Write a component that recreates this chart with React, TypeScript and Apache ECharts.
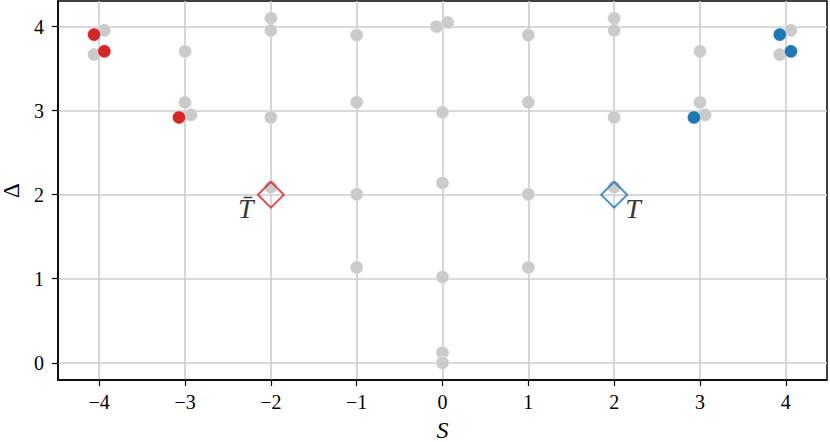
import React, { useEffect, useRef } from "react";
import * as echarts from "echarts";

const xTicks = [-4, -3, -2, -1, 0, 1, 2, 3, 4];
const yTicks = [0, 1, 2, 3, 4];

const grayS = [
  -4.06, -3.94,
  -3, -3, -2.93,
  -2, -2, -2, -2,
  -1, -1, -1, -1,
  -0.07, 0.06, 0, 0, 0, 0, 0,
  1, 1, 1, 1,
  2, 2, 2, 2,
  3, 3, 3.06,
  4.06, 3.93,
];
const grayD = [
  3.667, 3.956,
  3.706, 3.098, 2.95,
  4.1, 3.955, 2.92, 2.09,
  3.9, 3.1, 2.005, 1.135,
  4.0, 4.05, 2.98, 2.14, 1.02, 0.12, 0.0,
  3.9, 3.1, 2.005, 1.135,
  4.1, 3.955, 2.92, 2.09,
  3.706, 3.098, 2.95,
  3.956, 3.667,
];
const redS = [-4.06, -3.94, -3.07];
const redD = [3.905, 3.706, 2.92];
const blueS = [3.93, 4.06, 2.93];
const blueD = [3.905, 3.706, 2.92];
const diamondS = [-2, 2];
const diamondD = [2, 2];
const diamondLabels = ["T\u0304", "T"];

const RED = "#d62728";
const BLUE = "#1f77b4";
const GRAY = "#cbcbcb";
const FONT = "'Liberation Serif', 'DejaVu Serif', serif";

const zip = (a: number[], b: number[]) => a.map((v, i) => [v, b[i]]);
const fmt = (v: number) => (v < 0 ? "\u2212" + Math.abs(v) : String(v));

export default function App() {
  const ref = useRef<HTMLDivElement>(null);
  useEffect(() => {
    if (!ref.current) return;
    const chart = echarts.init(ref.current, undefined, { renderer: "svg" });
    const dotStyle = (c: string) => ({
      color: c,
      borderColor: "rgba(255,255,255,0.45)",
      borderWidth: 0.8,
      opacity: 1,
    });
    chart.setOption({
      animation: false,
      backgroundColor: "#ffffff",
      grid: {
        left: 58,
        right: 3,
        top: 1,
        bottom: 62,
        containLabel: false,
        outerBoundsMode: "none",
        show: true,
        borderColor: "#000",
        borderWidth: 1.5,
        backgroundColor: "transparent",
      },
      xAxis: {
        type: "value",
        min: -4.48,
        max: 4.48,
        name: "S",
        nameLocation: "middle",
        nameGap: 38,
        nameTextStyle: { fontFamily: FONT, fontStyle: "italic", fontSize: 24, color: "#000" },
        axisLine: { show: true, onZero: false, lineStyle: { color: "#000", width: 1.5 } },
        axisTick: { show: true, inside: false, length: 6, lineStyle: { color: "#000", width: 1.2 }, customValues: xTicks },
        axisLabel: { fontFamily: FONT, fontSize: 20, color: "#000", margin: 12, formatter: fmt, customValues: xTicks },
        splitLine: { show: true, lineStyle: { color: "#cccccc", width: 1.6 } },
      },
      yAxis: {
        type: "value",
        min: -0.205,
        max: 4.305,
        name: "\u0394",
        nameLocation: "middle",
        nameGap: 32,
        nameRotate: 90,
        nameTextStyle: { fontFamily: FONT, fontSize: 23, lineHeight: 22, color: "#000" },
        axisLine: { show: true, onZero: false, lineStyle: { color: "#000", width: 1.5 } },
        axisTick: { show: true, inside: false, length: 6, lineStyle: { color: "#000", width: 1.2 }, customValues: yTicks },
        axisLabel: { fontFamily: FONT, fontSize: 20, color: "#000", margin: 14, formatter: fmt, customValues: yTicks },
        splitLine: { show: true, lineStyle: { color: "#cccccc", width: 1.6 } },
      },
      series: [
        {
          type: "scatter",
          data: zip(grayS, grayD),
          symbol: "circle",
          symbolSize: 13,
          itemStyle: dotStyle(GRAY),
          z: 3,
        },
        {
          type: "scatter",
          data: zip(redS, redD),
          symbol: "circle",
          symbolSize: 13,
          itemStyle: dotStyle(RED),
          z: 4,
        },
        {
          type: "scatter",
          data: zip(blueS, blueD),
          symbol: "circle",
          symbolSize: 13,
          itemStyle: dotStyle(BLUE),
          z: 4,
        },
        {
          type: "scatter",
          symbol: "diamond",
          symbolSize: 26,
          z: 5,
          data: diamondS.map((s, i) => ({
            value: [s, diamondD[i]],
            itemStyle: {
              color: "rgba(255,255,255,0)",
              borderColor: i === 0 ? RED : BLUE,
              borderWidth: 2,
            },
            label: {
              show: true,
              position: "inside",
              formatter: diamondLabels[i],
              offset: i === 0 ? [-25, 14] : [19, 14],
              fontFamily: FONT,
              fontStyle: "italic",
              fontSize: 28,
              color: "#000",
            },
          })),
        },
      ],
    });
    return () => chart.dispose();
  }, []);
  return (
    <div
      ref={ref}
      style={{ position: "fixed", left: 0, top: 0, width: 830, height: 442, background: "#fff" }}
    />
  );
}
